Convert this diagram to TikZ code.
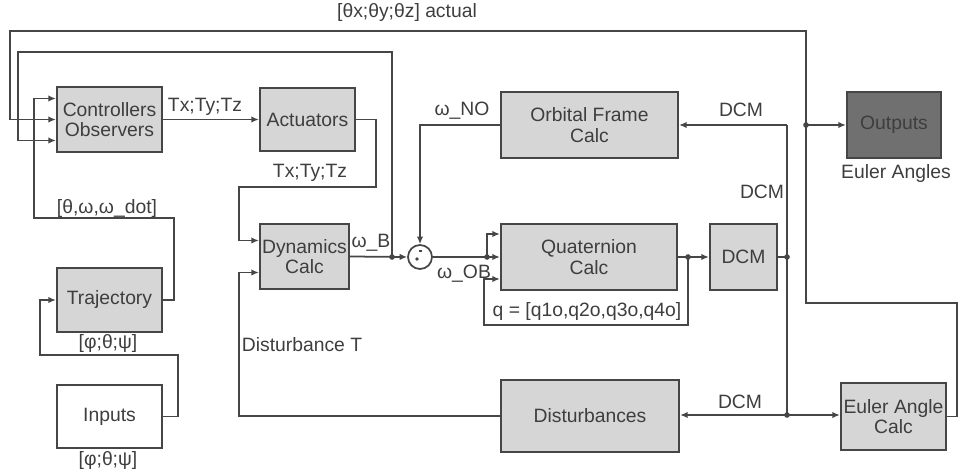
\documentclass[tikz,border=0pt]{standalone}
\usepackage{fontspec}
\setmainfont{Liberation Sans}
\usetikzlibrary{arrows.meta,calc}
\definecolor{simline}{RGB}{70,70,70}
\definecolor{simtext}{RGB}{62,62,62}
\definecolor{blkfill}{RGB}{214,214,214}
\definecolor{outfill}{RGB}{112,112,112}
\tikzset{
  sigarr/.style={-{Latex[length=1.5mm,width=1.3mm]}, simline, line width=1pt},
  sigline/.style={simline, line width=1pt},
  blk/.style={draw=simline, fill=blkfill, line width=1.3pt, inner sep=0pt,
              align=center, text=simtext, font=\fontsize{11}{11.5}\selectfont},
  lbl/.style={text=simtext, inner sep=1pt, font=\fontsize{11}{11.5}\selectfont},
  jdot/.style={circle, fill=simline, inner sep=0pt, minimum size=3.2pt},
}

\begin{document}
\begin{tikzpicture}[x=0.02cm, y=-0.02cm]
  \useasboundingbox (0,0) rectangle (959,472);

  % blocks
  \node[blk, minimum width=2.1cm, minimum height=1.3cm] (ctrl) at (109.5,119.5) {Controllers\\Observers};
  \node[blk, minimum width=1.9cm, minimum height=1.26cm] (act) at (307.5,119.5) {Actuators};
  \node[blk, minimum width=3.54cm, minimum height=1.32cm] (orb) at (589.5,125) {Orbital Frame\\Calc};
  \node[blk, fill=outfill, minimum width=1.88cm, minimum height=1.32cm] (out) at (894,125) {Outputs};
  \node[blk, minimum width=1.78cm, minimum height=1.3cm] (dyn) at (304.5,256.5) {Dynamics\\Calc};
  \node[draw=simline, fill=white, line width=1pt, circle, minimum size=0.48cm, inner sep=0pt] (sum) at (420,257) {};
  \node[blk, minimum width=3.52cm, minimum height=1.32cm] (quat) at (589,257) {Quaternion\\Calc};
  \node[blk, minimum width=1.34cm, minimum height=1.32cm] (dcm) at (743.5,257) {DCM};
  \node[blk, minimum width=2.1cm, minimum height=1.28cm] (traj) at (109.5,300) {Trajectory};
  \node[blk, fill=white, minimum width=2.1cm, minimum height=1.26cm] (inp) at (109.5,416.5) {Inputs};
  \node[blk, minimum width=3.56cm, minimum height=1.44cm] (dist) at (590,416) {Disturbances};
  \node[blk, minimum width=2.1cm, minimum height=1.34cm] (eul) at (893.5,416.5) {Euler Angle\\Calc};

  % sum marks
  \fill[simline] ($(sum.center)+(-3,2)$) circle (1.1pt);
  \draw[simline, line width=0.6pt] ($(sum.center)+(-1,-6)$) -- ++(3,0);

  % ports and corners
  \coordinate (ctrlA) at ($(ctrl.west)+(0,-21)$);
  \coordinate (ctrlC) at ($(ctrl.west)+(0,21)$);
  \coordinate (dynA) at ($(dyn.west)+(0,-16)$);
  \coordinate (dynB) at ($(dyn.west)+(0,16)$);
  \coordinate (quatA) at ($(quat.west)+(0,-23)$);
  \coordinate (quatC) at ($(quat.west)+(0,22)$);
  \coordinate (eR) at (957,303);
  \coordinate (oX) at (806,303);
  \coordinate (oT) at (806,31);
  \coordinate (lT) at (10,31);
  \coordinate (wB) at (392,257);
  \coordinate (wT) at (392,52);
  \coordinate (wL) at (18,52);
  \coordinate (tA) at (174,218);
  \coordinate (tB) at (34,218);
  \coordinate (aA) at (376,187);
  \coordinate (aB) at (239,187);
  \coordinate (dB) at (239,416);
  \coordinate (qS) at (487,257);
  \coordinate (qF) at (688,257);
  \coordinate (qB) at (688,325);
  \coordinate (qL) at (484,325);
  \coordinate (bus) at (787,257);
  \coordinate (busT) at (787,125);
  \coordinate (busB) at (787,415);
  \coordinate (iA) at (178,355);
  \coordinate (iB) at (40,355);

  % connectors
  \draw[sigarr] (eul.east) -| (eR) -- (oX) -- (oT) -- (lT) |- (ctrl.west);
  \draw[sigarr] (oX |- out.west) -- (out.west);
  \draw[sigarr] (wB) -- (wT) -- (wL) |- (ctrlC);
  \draw[sigarr] (traj.east) -| (tA) -- (tB) |- (ctrlA);
  \draw[sigarr] (ctrl.east) -- (ctrl.east -| act.west);
  \draw[sigarr] (act.east) -| (aA) -- (aB) |- (dynA);
  \draw[sigarr] (dyn.east) -- (sum.west);
  \draw[sigarr] (dist.west) -- (dB) |- (dynB);
  \draw[sigarr] (orb.west) -| (sum.north);
  \draw[sigarr] (sum.east) -- (quat.west);
  \draw[sigarr] (qS) |- (quatA);
  \draw[sigarr] (quat.east) -- (dcm.west);
  \draw[sigarr] (qF) -- (qB) -- (qL) |- (quatC);
  \draw[sigline] (dcm.east) -- (bus);
  \draw[sigline] (busT) -- (busB);
  \draw[sigarr] (busT) -- (orb.east);
  \draw[sigarr] (busB) -- (busB -| dist.east);
  \draw[sigarr] (busB) -- (busB -| eul.west);
  \draw[sigarr] (inp.east) -| (iA) -- (iB) |- (traj.west);

  % junctions
  \foreach \j in {wB, qS, qF, bus, busB} \node[jdot] at (\j) {};
  \node[jdot] at (oX |- out.west) {};

  % labels
  \node[lbl] (lActual) at (407,13) {[θx;θy;θz] actual};
  \node[lbl] (lTq1) at (205,107) {Tx;Ty;Tz};
  \node[lbl] (lTq2) at (310,173) {Tx;Ty;Tz};
  \node[lbl] (lRef) at (107,209) {[θ,ω,ω\_dot]};
  \node[lbl] (lWno) at (462,111) {ω\_NO};
  \node[lbl] (lWb) at (371,243) {ω\_B};
  \node[lbl] (lWob) at (464,274) {ω\_OB};
  \node[lbl] (lQ) at (587,312) {q = [q1o,q2o,q3o,q4o]};
  \node[lbl] (lDcm1) at (741,110) {DCM};
  \node[lbl] (lDcm2) at (762,192) {DCM};
  \node[lbl] (lDcm3) at (740,402) {DCM};
  \node[lbl] (lEul) at (896,174) {Euler Angles};
  \node[lbl] (lDist) at (302,345) {Disturbance T};
  \node[lbl] (lAng1) at (108,344) {[φ;θ;ψ]};
  \node[lbl] (lAng2) at (108,461) {[φ;θ;ψ]};
\end{tikzpicture}
\end{document}
